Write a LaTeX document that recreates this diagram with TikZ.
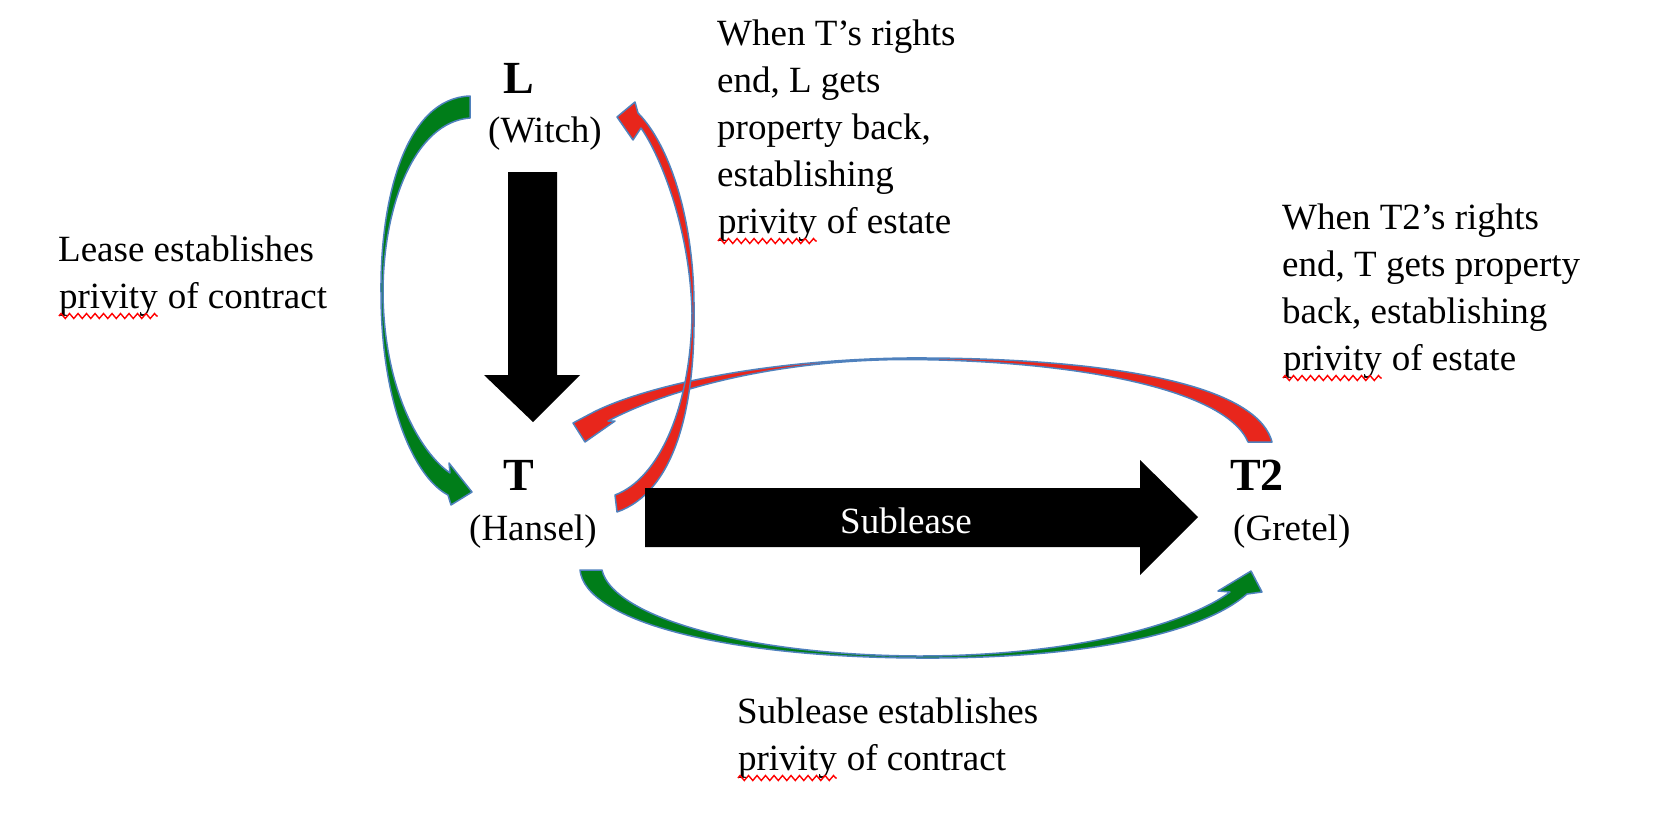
\documentclass[tikz,border=0pt]{standalone}
\usepackage{fontspec}
\setmainfont{Liberation Serif}
\usetikzlibrary{decorations.pathmorphing}

\definecolor{ribbongreen}{RGB}{0,125,25}
\definecolor{ribbonred}{RGB}{232,38,28}
\definecolor{ribbonedge}{RGB}{79,129,189}

\tikzset{
  ribbon/.style={draw=ribbonedge, line width=1.5pt, line join=round},
  partyname/.style={inner sep=0pt, anchor=base west, font=\fontsize{46}{50}\selectfont\bfseries},
  nickname/.style={inner sep=0pt, anchor=base west, font=\fontsize{37}{47}\selectfont},
  notetext/.style={inner sep=0pt, anchor=base west, align=left, font=\fontsize{37}{47}\selectfont},
}

% red spell-check squiggle under a word
\newcommand{\spellwave}[1]{\tikz[baseline=(w.base)]{\node[inner sep=0pt] (w) {#1};
  \draw[red, line width=1.4pt, decorate, decoration={zigzag, amplitude=2.5pt, segment length=8.5pt}]
    ([yshift=-8pt]w.base west) -- ([yshift=-8pt]w.base east);}}

\begin{document}
\begin{tikzpicture}[x=1pt, y=-1pt]
    \useasboundingbox (0,0) rectangle (1654,820);

    % ribbons
    \filldraw[ribbon, fill=ribbonred] (1272,442) .. controls (1255,378) and (1080,357) .. (905,358)
        .. controls (760,360) and (640,387) .. (590,414) -- (573,423) -- (585,442) -- (615,421) -- (608,421)
        .. controls (665,391) and (770,360) .. (905,359.5) .. controls (1070,360) and (1225,388) .. (1248,442) -- cycle;
    \filldraw[ribbon, fill=ribbongreen] (470,96) .. controls (405,98) and (380,200) .. (381,293)
        .. controls (381,405) and (415,478) .. (448,495) -- (451,505) -- (472,492) -- (449,463) -- (450,473)
        .. controls (420,452) and (384,390) .. (383,293) .. controls (383,205) and (415,122) .. (470,118) -- cycle;
    \filldraw[ribbon, fill=ribbonred] (617,512) .. controls (674,492) and (695,410) .. (694,313)
        .. controls (695,222) and (670,145) .. (638,113) -- (635,102) -- (617,117) -- (633,140) -- (641,128)
        .. controls (660,155) and (690,228) .. (692,313) .. controls (691,405) and (660,478) .. (615,495) -- cycle;
    \filldraw[ribbon, fill=ribbongreen] (580,570) .. controls (585,620) and (720,657) .. (918,658)
        .. controls (1080,659) and (1200,635) .. (1247,594) -- (1262,592) -- (1251,571) -- (1218,591) -- (1230,592)
        .. controls (1190,622) and (1080,656) .. (918,656) .. controls (740,655) and (612,615) .. (602,570) -- cycle;

    % block arrows
    \fill[black] (508,172) -- (557,172) -- (557,375) -- (580,375) -- (533,422) -- (484,375) -- (508,375) -- cycle;
    \fill[black] (645,488) -- (1140,488) -- (1140,460) -- (1198,517) -- (1140,575) -- (1140,547) -- (645,547) -- cycle;
    \node[nickname, anchor=base, text=white] (subleaselabel) at (906,533) {Sublease};

    % parties
    \node[partyname] (lnode) at (503,93) {L};
    \node[nickname] (witch) at (488,142) {(Witch)};
    \node[partyname] (tnode) at (503,490) {T};
    \node[nickname] (hansel) at (469,540) {(Hansel)};
    \node[partyname] (ttwo) at (1230,490) {T2};
    \node[nickname] (gretel) at (1233,540) {(Gretel)};

    % notes (anchored at the baseline of their last line)
    \node[notetext] (leasenote) at (58,308) {Lease establishes\\\spellwave{privity} of contract};
    \node[notetext] (revertnote) at (717,233) {When T’s rights\\end, L gets\\property back,\\establishing\\\spellwave{privity} of estate};
    \node[notetext] (subrevertnote) at (1282,370) {When T2’s rights\\end, T gets property\\back, establishing\\\spellwave{privity} of estate};
    \node[notetext] (subleasenote) at (737,770) {Sublease establishes\\\spellwave{privity} of contract};

\end{tikzpicture}
\end{document}
